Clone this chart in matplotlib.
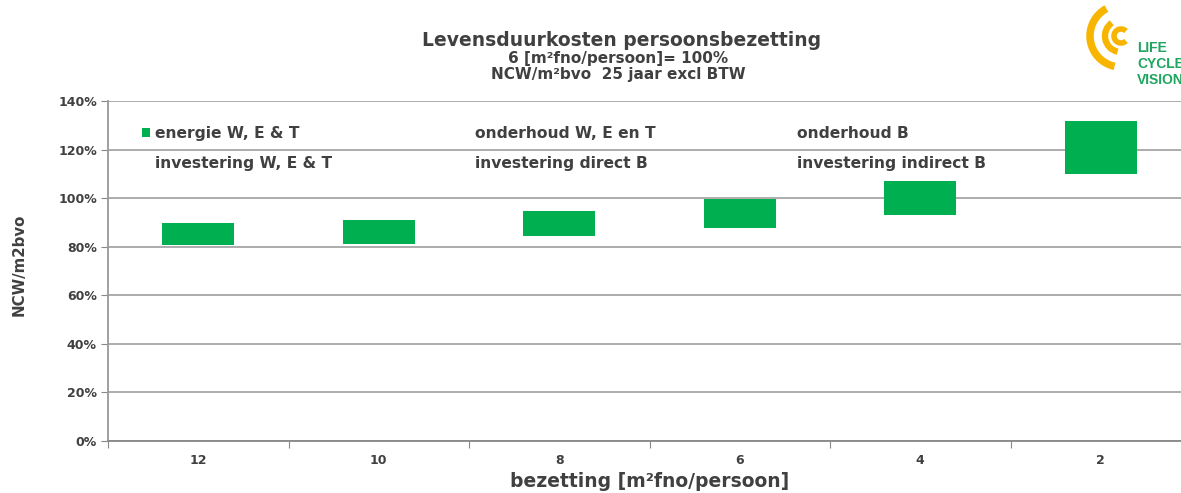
import matplotlib.pyplot as plt
import matplotlib.patches as mpatches
from matplotlib.legend import Legend
from matplotlib.ticker import FixedLocator, PercentFormatter

plt.rcParams['font.family'] = ['DejaVu Sans']
plt.rcParams['font.weight'] = 'bold'
plt.rcParams['axes.labelweight'] = 'bold'

# data
bezetting = ['12', '10', '8', '6', '4', '2']
# sum of the (invisible) other components below the energy segment
basis = [0.807, 0.812, 0.844, 0.878, 0.932, 1.101]
energie = [0.091, 0.098, 0.103, 0.118, 0.139, 0.217]
legend_labels = [
    ['energie W, E & T', 'investering W, E & T'],
    ['onderhoud W, E en T', 'investering direct B'],
    ['onderhoud B', 'investering indirect B'],
]

green = '#00AF50'
grey_text = '#404040'
grid_col = '#A6A6A6'

fig = plt.figure(figsize=(11.81, 4.93), dpi=100)
W, H = 1181, 493
ax = fig.add_axes([108 / W, 52 / H, (1191 - 108) / W, 340 / H])

x = list(range(len(bezetting)))
ax.bar(x, energie, bottom=basis, width=0.4, color=green, zorder=3)

ax.set_xlim(-0.5, len(bezetting) - 0.5)
ax.set_ylim(0, 1.4)
ax.set_yticks([i * 0.2 for i in range(8)])
ax.yaxis.set_major_formatter(PercentFormatter(1.0, decimals=0))
ax.grid(axis='y', color=grid_col, linewidth=1.3, zorder=0)

# category boundaries as major ticks, labels at the centres
ax.xaxis.set_major_locator(FixedLocator([i - 0.5 for i in range(len(bezetting) + 1)]))
ax.xaxis.set_minor_locator(FixedLocator(x))
ax.set_xticklabels([])
ax.set_xticklabels(bezetting, minor=True)
ax.tick_params(axis='x', which='major', length=5, color='#888888', direction='out')
ax.tick_params(axis='x', which='minor', length=0, pad=9, labelsize=9, labelcolor=grey_text)
ax.tick_params(axis='y', length=5, color='#888888', labelsize=9, labelcolor=grey_text, pad=3)

for s in ['top', 'right']:
    ax.spines[s].set_visible(False)
ax.spines['left'].set_color('#999999')
ax.spines['bottom'].set_color('#888888')
ax.spines['left'].set_linewidth(1.3)
ax.spines['bottom'].set_linewidth(1.3)

ax.set_xlabel('bezetting [m²fno/persoon]', fontsize=13.5, color=grey_text, labelpad=4)
fig.text(19 / W, 1 - 265 / H, 'NCW/m2bvo', rotation=90, ha='center', va='center',
         fontsize=10.8, color=grey_text)

# legend: three columns, only the energy entry has a visible swatch
col_x = [134, 454, 776]
for ci, labels in enumerate(legend_labels):
    handles = []
    for lab in labels:
        if lab == 'energie W, E & T':
            handles.append(mpatches.Patch(facecolor=green, edgecolor='none'))
        else:
            handles.append(mpatches.Patch(facecolor='none', edgecolor='none'))
    leg = Legend(ax, handles, labels, loc='upper left',
                 bbox_to_anchor=(col_x[ci] / W, 1 - 118 / H),
                 bbox_transform=fig.transFigure, frameon=False,
                 prop={'size': 11.2, 'weight': 'bold'}, handlelength=0.55, handleheight=0.55,
                 handletextpad=0.3, labelspacing=0.95, borderpad=0)
    for t in leg.get_texts():
        t.set_color(grey_text)
    ax.add_artist(leg)

# titles
fig.text(622 / W, 1 - 40 / H, 'Levensduurkosten persoonsbezetting', ha='center', va='center',
         fontsize=13.5, color=grey_text)
fig.text(618 / W, 1 - 58 / H, '6 [m²fno/persoon]= 100%', ha='center', va='center',
         fontsize=11, color=grey_text)
fig.text(618 / W, 1 - 75 / H, 'NCW/m²bvo  25 jaar excl BTW', ha='center', va='center',
         fontsize=11, color=grey_text)

# logo (top right corner, partly cut off like in the original)
lg = fig.add_axes([1060 / W, 1 - 100 / H, 121 / W, 100 / H])
lg.set_xlim(0, 121)
lg.set_ylim(0, 100)
lg.axis('off')
yellow = '#F7B500'
cx, cy = 61, 64
for r, lw, t1, t2 in [(7, 4, 45, 315), (16, 4.6, 125, 258), (31, 5.4, 118, 258)]:
    lg.add_patch(mpatches.Arc((cx, cy), 2 * r, 2 * r, theta1=t1, theta2=t2,
                              color=yellow, linewidth=lw))
logo_green = '#1FA55F'
for i, word in enumerate(['LIFE', 'CYCLE', 'VISION']):
    lg.text(77, 52 - i * 16, word, fontsize=10, color=logo_green, va='center', ha='left',
            family=['Liberation Sans Narrow', 'Liberation Sans'])

fig.savefig('out.png', dpi=100)
